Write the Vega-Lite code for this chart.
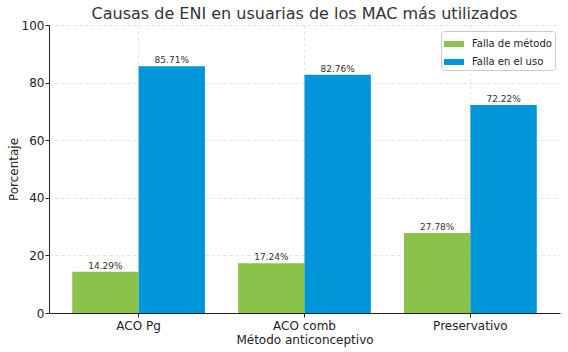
{
  "$schema": "https://vega.github.io/schema/vega-lite/v6.json",
  "autosize": {"type": "none"},
  "width": 511,
  "height": 288,
  "padding": {"left": 49, "top": 25, "right": 8, "bottom": 39},
  "background": "white",
  "config": {
    "font": "DejaVu Sans",
    "view": {"stroke": null},
    "axis": {
      "labelFont": "DejaVu Sans",
      "titleFont": "DejaVu Sans",
      "labelColor": "#222",
      "titleColor": "#222",
      "labelFontSize": 12,
      "titleFontSize": 12,
      "titleFontWeight": "normal",
      "domainColor": "#222",
      "tickColor": "#222",
      "tickSize": 4,
      "gridColor": "#d8d8d8",
      "gridDash": [3, 3],
      "gridWidth": 0.8
    }
  },
  "title": {
    "text": "Causas de ENI en usuarias de los MAC más utilizados",
    "fontSize": 16,
    "fontWeight": "normal",
    "color": "#333",
    "font": "DejaVu Sans",
    "offset": -3
  },
  "data": {
    "values": [
      {"metodo": "ACO Pg", "causa": "Falla de método", "valor": 14.29},
      {"metodo": "ACO Pg", "causa": "Falla en el uso", "valor": 85.71},
      {"metodo": "ACO comb", "causa": "Falla de método", "valor": 17.24},
      {"metodo": "ACO comb", "causa": "Falla en el uso", "valor": 82.76},
      {"metodo": "Preservativo", "causa": "Falla de método", "valor": 27.78},
      {"metodo": "Preservativo", "causa": "Falla en el uso", "valor": 72.22}
    ]
  },
  "encoding": {
    "x": {
      "field": "metodo",
      "type": "nominal",
      "sort": ["ACO Pg", "ACO comb", "Preservativo"],
      "scale": {"paddingInner": 0.2, "paddingOuter": 0.14},
      "axis": {
        "title": "Método anticonceptivo",
        "labelAngle": 0,
        "bandPosition": 0.5,
        "grid": true,
        "titlePadding": 3,
        "labelPadding": 3
      }
    },
    "xOffset": {
      "field": "causa",
      "type": "nominal",
      "sort": ["Falla de método", "Falla en el uso"],
      "scale": {"paddingInner": 0, "paddingOuter": 0}
    },
    "y": {
      "field": "valor",
      "type": "quantitative",
      "scale": {"domain": [0, 100], "nice": false},
      "axis": {
        "title": "Porcentaje",
        "values": [0, 20, 40, 60, 80, 100],
        "grid": true,
        "titlePadding": 1,
        "labelPadding": 1
      }
    }
  },
  "layer": [
    {
      "mark": {"type": "bar"},
      "encoding": {
        "color": {
          "field": "causa",
          "type": "nominal",
          "scale": {
            "domain": ["Falla de método", "Falla en el uso"],
            "range": ["#8BC34A", "#0096D9"]
          },
          "legend": {
            "title": null,
            "orient": "none",
            "legendX": 392,
            "legendY": 6,
            "labelFontSize": 10,
            "labelColor": "#222",
            "labelFont": "DejaVu Sans",
            "symbolType": "M-1,-0.3H1V0.3H-1Z",
            "symbolSize": 400,
            "symbolStrokeWidth": 0,
            "symbolOpacity": 1,
            "strokeColor": "#cccccc",
            "fillColor": "white",
            "padding": 3,
            "cornerRadius": 3,
            "rowPadding": 3,
            "labelOffset": 8
          }
        }
      }
    },
    {
      "transform": [
        {"calculate": "format(datum.valor, '.2f') + '%'", "as": "etiqueta"}
      ],
      "mark": {"type": "text", "dy": -6, "fontSize": 9, "color": "#333", "font": "DejaVu Sans"},
      "encoding": {
        "text": {"field": "etiqueta", "type": "nominal"},
        "detail": {"field": "causa"}
      }
    }
  ]
}
